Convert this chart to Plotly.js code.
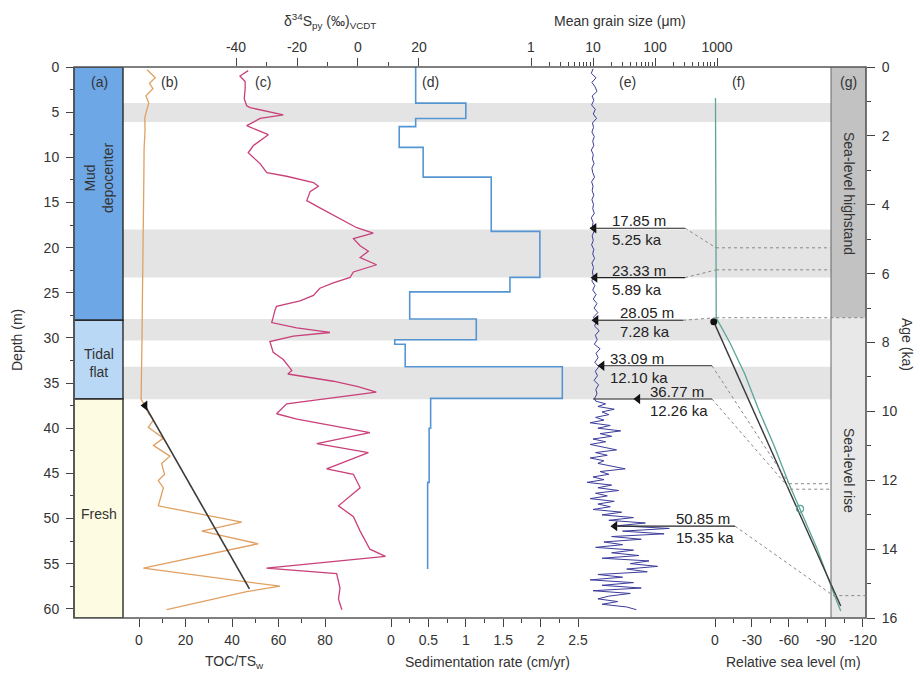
<!DOCTYPE html>
<html><head><meta charset="utf-8">
<script src="https://cdn.plot.ly/plotly-3.0.1.min.js"></script>
<style>html,body{margin:0;padding:0;background:#fff}#chart{width:920px;height:680px}</style>
</head><body><div id="chart"></div>
<script>
// ---------------- DATA ----------------
const faciesTop = [0, 28.05, 36.77];
const faciesBottom = [28.05, 36.77, 61.02];
const faciesName = ["Mud<br>depocenter", "Tidal<br>flat", "Fresh"];
const bandTop = [4.0, 18.0, 27.9, 33.2];
const bandBottom = [6.1, 23.3, 30.3, 36.8];

const tocDepth = [0.3,0.8,1.2,1.8,2.4,3.2,4.0,4.8,5.6,7.0,9.0,12.0,15.0,20.0,25.0,30.0,35.0,36.8,37.5,38.3,39.1,39.9,41.1,41.9,43.1,43.9,45.1,45.8,46.6,48.6,50.4,51.4,52.8,55.5,57.5,58.1,60.1];
const tocValue = [3.5,5.5,7.0,4.5,6.0,3.0,4.2,3.3,2.5,2.6,2.2,2.1,1.9,1.7,1.5,1.3,1.0,0.9,2.6,4.0,6.2,4.0,10.5,6.2,13.3,9.7,11.0,8.3,10.5,8.3,44.2,27.0,51.3,1.9,60.6,46.3,11.9];
const tocTrendDepth = [37.5, 57.8];
const tocTrendValue = [2.6, 47.5];

const d34Depth = [0.4,1.0,1.6,2.4,3.5,4.3,4.5,5.3,5.7,6.5,7.5,8.7,9.5,10.7,11.7,12.1,12.8,13.2,13.8,14.8,15.6,16.6,17.8,18.4,19.0,19.8,20.4,21.1,21.9,22.7,23.3,23.9,24.5,25.3,25.9,26.5,26.9,27.7,28.3,28.9,29.4,29.8,30.4,31.6,32.4,33.6,34.0,34.8,35.4,36.0,37.3,38.4,39.0,40.5,41.7,42.7,44.5,45.1,46.6,48.6,49.8,51.4,53.4,54.2,55.5,56.1,57.7,58.9,60.1];
const d34Value = [-36,-38.7,-37,-37,-37.3,-36.5,-35.4,-24.5,-32.1,-36.5,-29.4,-34.3,-36,-32.1,-29.9,-23.4,-14.6,-13,-15.7,-16.8,-12.5,-7,-0.4,5.0,-1.5,0.7,3.4,0.7,6.1,-1.5,-2.6,-8.1,-12.5,-14.6,-19,-26.7,-27.2,-27.8,-28.3,-20.1,-9.2,-21.2,-28.9,-27.8,-24.5,-21.7,-23,-8.1,0,6,-23.4,-26.7,-20,3.9,-13.5,3.4,-10.3,-1.5,0.7,-6.4,-1.5,0.7,3.9,9,-30,-7,-5.9,-6.4,-5.3];

const sedTop = [0, 4.0, 5.7, 6.6, 8.9, 12.2, 18.2, 23.3, 24.9, 27.9, 30.2, 30.7, 33.2, 36.7, 40.0, 46.0];
const sedBottom = [4.0, 5.7, 6.6, 8.9, 12.2, 18.2, 23.3, 24.9, 27.9, 30.2, 30.7, 33.2, 36.7, 40.0, 46.0, 55.6];
const sedRate = [0.33, 1.0, 0.33, 0.11, 0.43, 1.34, 1.99, 1.59, 0.25, 1.14, 0.05, 0.19, 2.29, 0.53, 0.51, 0.49];

const grainDepth = [0.2,0.7,1.2,1.7,2.2,2.7,3.2,3.7,4.2,4.7,5.2,5.7,6.2,6.7,7.2,7.7,8.2,8.7,9.2,9.7,10.2,10.7,11.2,11.7,12.2,12.7,13.2,13.7,14.2,14.7,15.2,15.7,16.2,16.7,17.2,17.7,18.2,18.7,19.2,19.7,20.2,20.7,21.2,21.7,22.2,22.7,23.2,23.7,24.2,24.7,25.2,25.7,26.2,26.7,27.2,27.7,28.2,28.7,29.2,29.7,30.2,30.7,31.2,31.7,32.2,32.7,33.2,33.7,34.2,34.7,35.2,35.7,36.2,36.7,
 37.0,37.3,37.6,37.9,38.2,38.5,38.8,39.1,39.4,39.7,40.0,40.3,40.6,40.9,41.2,41.5,41.8,42.1,42.4,42.7,43.0,43.3,43.6,43.9,44.2,44.5,44.8,45.1,45.4,45.7,46.0,46.3,46.6,46.9,47.2,47.5,47.8,48.1,48.4,48.7,49.0,49.3,49.6,49.9,50.2,50.5,50.8,51.1,51.4,51.7,52.0,52.3,52.6,52.9,53.2,53.5,53.8,54.1,54.4,54.7,55.0,55.3,55.6,55.9,56.2,56.5,56.8,57.1,57.4,57.7,58.0,58.3,58.6,58.9,59.2,59.5,59.8,60.1];
const grainSize = [10.0,9.4,11.2,9.6,10.8,11.6,9.7,10.3,9.5,10.9,10.1,11.4,9.8,10.2,9.6,10.5,9.9,10.3,9.4,10.1,9.8,10.4,9.6,9.9,10.6,9.5,10.0,9.7,10.3,9.6,10.2,9.9,10.5,9.4,10.0,9.8,10.4,9.7,10.1,9.5,10.3,9.9,10.6,9.6,10.2,9.8,10.1,9.6,10.7,9.9,11.2,10.1,11.6,10.4,12.0,10.2,11.3,10.6,12.6,10.9,11.7,10.5,13.0,11.2,12.1,10.7,12.4,10.9,11.8,10.4,12.3,11.1,11.6,10.6,
 11,16,12,22,14,18,11,15,9,19,12,28,13,20,10,16,9,14,24,11,17,9,15,12,21,33,13,18,10,15,8,20,12,26,11,17,9,22,12,19,10,29,14,45,18,70,25,170,30,140,20,60,15,30,11,45,20,55,14,80,40,110,35,75,12,30,9,45,14,60,10,40,18,12,25,14,35,50];

const markDepth = [17.85, 23.33, 28.05, 33.09, 36.77, 50.85];
const markAge = [5.25, 5.89, 7.28, 12.10, 12.26, 15.35];
const markGrain = [10.4, 10.8, 11.2, 14.0, 53, 22.6];
const markRSL = [-0.8, -0.9, -1.0, -60, -61, -96];

const tealAge = [0.9, 3.0, 5.25, 5.89, 7.28, 8.0, 8.9, 10.0, 11.0, 12.1, 12.83, 14.0, 15.35, 15.8];
const tealRSL = [-0.4, -0.6, -0.8, -0.9, -1.0, -12, -24, -36, -48, -60, -69, -83, -97, -102];
const blackAge = [7.4, 15.65];
const blackRSL = [1, -102];
const circleAge = [12.83];
const circleRSL = [-69];
const highstandEnd = 7.28;

// ---------------- GEOMETRY ----------------
const L = 74, R = 866, T = 67, B = 618, W = R - L, H = B - T;
const P = px => (px - L) / W;
const Q = py => 1 - (py - T) / H;
const DMAX = 61.02, AMAX = 16;
const DQ = d => 1 - d / DMAX;
const AQ = a => 1 - a / AMAX;
const x5dom = [P(700), 1], x5rng = [12.17, -122.5];
const RX = r => x5dom[0] + (r - x5rng[0]) / (x5rng[1] - x5rng[0]) * (x5dom[1] - x5dom[0]);

const FONT = "Liberation Sans, Arial, sans-serif";
const TXT = "#333";
const tf = {family: FONT, size: 14, color: TXT};

// sed step series
const sedX = [], sedY = [];
sedRate.forEach((v, i) => { sedX.push(v, v); sedY.push(sedTop[i], sedBottom[i]); });

const traces = [
  {x: tocValue, y: tocDepth, xaxis: 'x', yaxis: 'y', mode: 'lines', line: {color: '#e0a062', width: 1.3}},
  {x: tocTrendValue, y: tocTrendDepth, xaxis: 'x', yaxis: 'y', mode: 'lines', line: {color: '#3a3a3a', width: 1.6}},
  {x: [tocTrendValue[0]], y: [tocTrendDepth[0]], xaxis: 'x', yaxis: 'y', mode: 'markers', marker: {symbol: 'triangle-left', size: 9, color: '#111'}},
  {x: d34Value, y: d34Depth, xaxis: 'x2', yaxis: 'y', mode: 'lines', line: {color: '#c9407a', width: 1.3}},
  {x: sedX, y: sedY, xaxis: 'x3', yaxis: 'y', mode: 'lines', line: {color: '#5596d2', width: 1.6}},
  {x: grainSize, y: grainDepth, xaxis: 'x4', yaxis: 'y', mode: 'lines', line: {color: '#3c3c9c', width: 1}},
  {x: markGrain, y: markDepth, xaxis: 'x4', yaxis: 'y', mode: 'markers', marker: {symbol: 'triangle-left', size: 9, color: '#111'}},
  {x: tealRSL, y: tealAge, xaxis: 'x5', yaxis: 'y2', mode: 'lines', line: {color: '#5aa597', width: 1.3}},
  {x: blackRSL, y: blackAge, xaxis: 'x5', yaxis: 'y2', mode: 'lines', line: {color: '#3a3a3a', width: 1.4}},
  {x: [blackRSL[0]], y: [blackAge[0]], xaxis: 'x5', yaxis: 'y2', mode: 'markers', marker: {symbol: 'circle', size: 7, color: '#111'}},
  {x: circleRSL, y: circleAge, xaxis: 'x5', yaxis: 'y2', mode: 'markers', marker: {symbol: 'circle-open', size: 7, color: '#5aa597', line: {width: 1.2}}}
];

// ---------------- SHAPES ----------------
const shapes = [];
bandTop.forEach((t, i) => shapes.push({type: 'rect', xref: 'paper', yref: 'y', x0: P(123), x1: P(831), y0: t, y1: bandBottom[i], fillcolor: '#e4e4e4', line: {width: 0}, layer: 'below'}));
const facColors = ['#6da7e6', '#b8d8f6', '#fdfbe2'];
faciesTop.forEach((t, i) => shapes.push({type: 'rect', xref: 'paper', yref: 'y', x0: 0, x1: P(123), y0: t, y1: faciesBottom[i], fillcolor: facColors[i], line: {color: '#2a2a2a', width: 1.4}, layer: 'below'}));
shapes.push({type: 'rect', xref: 'paper', yref: 'y2', x0: P(831), x1: 1, y0: 0, y1: highstandEnd, fillcolor: '#c2c2c2', line: {width: 0}, layer: 'below'});
shapes.push({type: 'rect', xref: 'paper', yref: 'y2', x0: P(831), x1: 1, y0: highstandEnd, y1: AMAX, fillcolor: '#e8e8e8', line: {width: 0}, layer: 'below'});
shapes.push({type: 'line', xref: 'paper', yref: 'paper', x0: P(831), x1: P(831), y0: 0, y1: 1, line: {color: '#666', width: 1}});
shapes.push({type: 'rect', xref: 'paper', yref: 'paper', x0: 0, x1: 1, y0: 0, y1: 1, line: {color: '#555', width: 1.6}});

const lineStartPx = [590, 592, 593, 600, 593, 612];
const lineEndPx = [685, 685, 683, 712, 712, 735];
const textPx = [610, 610, 618, 608, 648, 674];
const hEndPx = [831, 831, 866, 831, 831, 866];
const annotations = [];
const lf = {family: FONT, size: 15, color: '#222'};
markDepth.forEach((d, i) => {
  shapes.push({type: 'line', xref: 'paper', yref: 'y', x0: P(lineStartPx[i]), x1: P(lineEndPx[i]), y0: d, y1: d, line: {color: '#222', width: 1.1}});
  shapes.push({type: 'line', xref: 'paper', yref: 'paper', x0: P(lineEndPx[i]), y0: DQ(d), x1: RX(markRSL[i]), y1: AQ(markAge[i]), line: {color: '#888', width: 1, dash: 'dot'}});
  shapes.push({type: 'line', xref: 'paper', yref: 'paper', x0: RX(markRSL[i]), y0: AQ(markAge[i]), x1: P(hEndPx[i]), y1: AQ(markAge[i]), line: {color: '#888', width: 1, dash: 'dot'}});
  annotations.push({xref: 'paper', yref: 'y', x: P(textPx[i]), y: d, xanchor: 'left', yanchor: 'bottom', yshift: -3, text: d.toFixed(2) + ' m', showarrow: false, font: lf});
  annotations.push({xref: 'paper', yref: 'y', x: P(textPx[i]), y: d, xanchor: 'left', yanchor: 'top', yshift: -1, text: markAge[i].toFixed(2) + ' ka', showarrow: false, font: lf});
});

// panel labels
const panelLab = ['(a)', '(b)', '(c)', '(d)', '(e)', '(f)', '(g)'];
const panelPx = [99, 169, 263, 430, 627, 738, 848];
panelLab.forEach((t, i) => annotations.push({xref: 'paper', yref: 'paper', x: P(panelPx[i]), y: Q(82), text: t, showarrow: false, font: tf, xanchor: 'center', yanchor: 'middle'}));

// facies names
const faciesTextPy = [178, 363, 514];
faciesName.forEach((t, i) => annotations.push({xref: 'paper', yref: 'paper', x: P(99), y: Q(faciesTextPy[i]), text: t, showarrow: false, font: tf, textangle: i === 0 ? -90 : 0, xanchor: 'center', yanchor: 'middle'}));
annotations.push({xref: 'paper', yref: 'paper', x: P(849), y: Q(193), text: 'Sea-level highstand', textangle: 90, showarrow: false, font: tf, xanchor: 'center', yanchor: 'middle'});
annotations.push({xref: 'paper', yref: 'paper', x: P(849), y: Q(470), text: 'Sea-level rise', textangle: 90, showarrow: false, font: tf, xanchor: 'center', yanchor: 'middle'});

// axis titles
const titles = [
  {t: 'δ<sup>34</sup>S<sub>py</sub> (‰)<sub>VCDT</sub>', x: 330, y: 21},
  {t: 'Mean grain size (μm)', x: 620, y: 21},
  {t: 'TOC/TS<sub>w</sub>', x: 234, y: 662},
  {t: 'Sedimentation rate (cm/yr)', x: 487, y: 662},
  {t: 'Relative sea level (m)', x: 793, y: 662}
];
titles.forEach(o => annotations.push({xref: 'paper', yref: 'paper', x: P(o.x), y: Q(o.y), text: o.t, showarrow: false, font: tf, xanchor: 'center', yanchor: 'middle'}));
annotations.push({xref: 'paper', yref: 'paper', x: P(17), y: Q(340), text: 'Depth (m)', textangle: -90, showarrow: false, font: tf, xanchor: 'center', yanchor: 'middle'});
annotations.push({xref: 'paper', yref: 'paper', x: P(907), y: Q(345), text: 'Age (ka)', textangle: 90, showarrow: false, font: tf, xanchor: 'center', yanchor: 'middle'});

// ---------------- AXES ----------------
const common = {showgrid: false, zeroline: false, showline: false, ticks: 'outside', ticklen: 8, tickwidth: 1, tickcolor: '#444', tickfont: tf, fixedrange: true};
const minorC = {ticks: 'outside', ticklen: 4, tickwidth: 1, tickcolor: '#444', showgrid: false};

const layout = {
  width: 920, height: 680,
  margin: {l: L, r: 920 - R, t: T, b: 680 - B, pad: 0},
  paper_bgcolor: '#fff', plot_bgcolor: 'rgba(0,0,0,0)',
  showlegend: false,
  font: {family: FONT, color: TXT},
  xaxis: Object.assign({}, common, {domain: [P(123), P(345)], range: [-6.88, 88.6], anchor: 'y', side: 'bottom', tickmode: 'array', tickvals: [0, 20, 40, 60, 80], ticklabelstandoff: 1, minor: Object.assign({}, minorC, {tickmode: 'array', tickvals: [10, 30, 50, 70]})}),
  xaxis2: Object.assign({}, common, {domain: [P(123), P(425)], range: [-77.05, 21.97], anchor: 'y', side: 'top', tickmode: 'array', tickvals: [-40, -20, 0, 20], ticktext: ['-40', '-20', '0', '20'], minor: Object.assign({}, minorC, {tickmode: 'array', tickvals: [-30, -10, 10]})}),
  xaxis3: Object.assign({}, common, {domain: [P(380), P(600)], range: [-0.147, 2.794], anchor: 'y', side: 'bottom', tickmode: 'array', tickvals: [0, 0.5, 1, 1.5, 2, 2.5], ticktext: ['0', '0.5', '1', '1.5', '2', '2.5'], ticklabelstandoff: 1, minor: Object.assign({}, minorC, {tickmode: 'array', tickvals: [0.25, 0.75, 1.25, 1.75, 2.25]})}),
  xaxis4: Object.assign({}, common, {type: 'log', domain: [P(500), P(740)], range: [-0.5, 3.371], anchor: 'y', side: 'top', tickmode: 'array', tickvals: [1, 10, 100, 1000], ticktext: ['1', '10', '100', '1000'], minor: Object.assign({}, minorC, {tickmode: 'array', tickvals: [2,3,4,5,6,7,8,9,20,30,40,50,60,70,80,90,200,300,400,500,600,700,800,900]})}),
  xaxis5: Object.assign({}, common, {domain: x5dom, range: x5rng, anchor: 'y2', side: 'bottom', tickmode: 'array', tickvals: [0, -30, -60, -90, -120], ticktext: ['0', '-30', '-60', '-90', '-120'], ticklabelstandoff: 1, minor: Object.assign({}, minorC, {tickmode: 'array', tickvals: [-15, -45, -75, -105]})}),
  yaxis: Object.assign({}, common, {domain: [0, 1], range: [DMAX, 0], anchor: 'free', position: 0, side: 'left', tickmode: 'linear', tick0: 0, dtick: 5, ticklabelstandoff: 4, minor: Object.assign({}, minorC, {tickmode: 'linear', tick0: 0, dtick: 2.5})}),
  yaxis2: Object.assign({}, common, {domain: [0, 1], range: [AMAX, 0], anchor: 'free', position: 1, side: 'right', tickmode: 'linear', tick0: 0, dtick: 2, ticklabelstandoff: 4, minor: Object.assign({}, minorC, {tickmode: 'linear', tick0: 0, dtick: 1})}),
  shapes: shapes,
  annotations: annotations
};

Plotly.newPlot('chart', traces, layout, {staticPlot: true, displayModeBar: false});
</script></body></html>
